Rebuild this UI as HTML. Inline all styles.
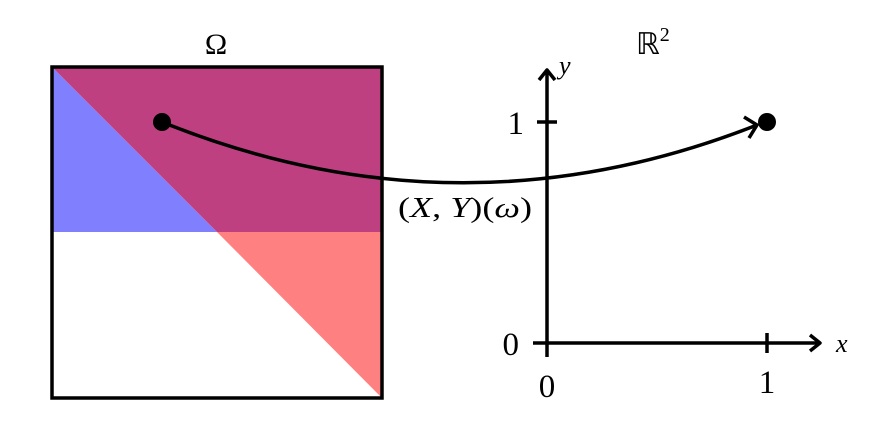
<!DOCTYPE html>
<html><head><style>body{margin:0;background:#fff}</style></head><body>
<svg width="893" height="440" viewBox="0 0 893 440" xmlns="http://www.w3.org/2000/svg" font-family="'Liberation Serif', serif">
<polygon points="52,67 217,232 52,232" fill="#8080ff"/>
<polygon points="52,67 382,67 382,232 217,232" fill="#bf4080"/>
<polygon points="217,232 382,232 382,398" fill="#ff8080"/>
<rect x="52" y="67" width="330" height="331" fill="none" stroke="#000" stroke-width="3.5"/>
<text x="216" y="54" font-size="30" text-anchor="middle">Ω</text>
<g stroke="#000" stroke-width="3.5" fill="none">
<line x1="547" y1="357" x2="547" y2="70"/>
<polyline points="539,80 547,70 555,80" stroke-linejoin="round"/>
<line x1="533" y1="343" x2="820" y2="343"/>
<polyline points="810,335 820,343 810,351" stroke-linejoin="round"/>
<line x1="537" y1="122" x2="557" y2="122"/>
<line x1="767" y1="333" x2="767" y2="353"/>
<path d="M162,122 Q460,242 757,125"/>
<polyline points="744,117 757,125 749,138" stroke-linejoin="round"/>
</g>
<circle cx="162" cy="122" r="9"/>
<circle cx="767" cy="122" r="9"/>
<g font-size="33">
<text x="524" y="134" text-anchor="end">1</text>
<text x="519" y="355" text-anchor="end">0</text>
<text x="547" y="397" text-anchor="middle">0</text>
<text x="767" y="393" text-anchor="middle">1</text>
</g>
<text x="836" y="352" font-size="26" font-style="italic">x</text>
<text x="559" y="74" font-size="26" font-style="italic">y</text>
<text x="636" y="54" font-size="30">ℝ<tspan font-size="20" dy="-13">2</tspan></text>
<text x="398" y="217" font-size="28" textLength="134" lengthAdjust="spacingAndGlyphs">(<tspan font-style="italic">X</tspan>, <tspan font-style="italic">Y</tspan>)(<tspan font-style="italic">ω</tspan>)</text>
</svg>
</body></html>
